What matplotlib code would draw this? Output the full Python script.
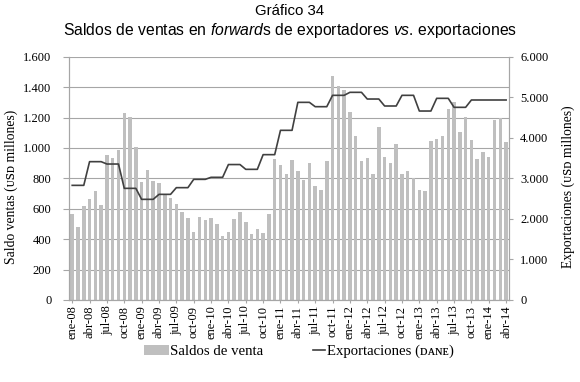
import matplotlib.pyplot as plt
from matplotlib.legend_handler import HandlerLine2D
import numpy as np

# Monthly data, ene-08 .. abr-14
saldos = [565, 480, 620, 664, 714, 627, 951, 934, 986, 1232, 1201, 1008,
          774, 857, 780, 772, 697, 668, 631, 576, 539, 447, 546, 526,
          539, 497, 418, 447, 533, 581, 515, 434, 465, 438, 563, 925,
          888, 828, 921, 848, 789, 899, 752, 723, 916, 1473, 1409, 1381,
          1234, 1081, 912, 932, 826, 1135, 943, 899, 1024, 828, 850, 800,
          723, 719, 1043, 1056, 1078, 1256, 1302, 1102, 1201, 1052, 929, 973,
          943, 1184, 1195, 1041]
exportaciones = [2827, 2827, 2827, 3411, 3411, 3411, 3353, 3353, 3353, 2753, 2753, 2753,
                 2482, 2482, 2482, 2605, 2605, 2605, 2770, 2770, 2770, 2975, 2975, 2975,
                 3025, 3025, 3025, 3340, 3340, 3340, 3222, 3222, 3222, 3584, 3584, 3584,
                 4184, 4184, 4184, 4874, 4874, 4874, 4767, 4767, 4767, 5047, 5047, 5047,
                 5121, 5121, 5121, 4956, 4956, 4956, 4784, 4784, 4784, 5047, 5047, 5047,
                 4660, 4660, 4660, 4973, 4973, 4973, 4751, 4751, 4751, 4932, 4932, 4932,
                 4932, 4932, 4932, 4932]
tick_labels = ["ene-08", "abr-08", "jul-08", "oct-08", "ene-09", "abr-09", "jul-09", "oct-09",
               "ene-10", "abr-10", "jul-10", "oct-10", "ene-11", "abr-11", "jul-11", "oct-11",
               "ene-12", "abr-12", "jul-12", "oct-12", "ene-13", "abr-13", "jul-13", "oct-13",
               "ene-14", "abr-14"]

serif = ['Liberation Serif', 'DejaVu Serif']
sans = ['Liberation Sans', 'DejaVu Sans']
plt.rcParams['font.family'] = serif
plt.rcParams['mathtext.fontset'] = 'custom'
plt.rcParams['mathtext.it'] = 'Liberation Sans:italic'
plt.rcParams['mathtext.rm'] = 'Liberation Sans'

grid_col = '#A6A6A6'


class ShortLine(HandlerLine2D):
    """Legend line drawn only over the right half of the handle box"""
    def create_artists(self, legend, orig_handle, xdescent, ydescent,
                       width, height, fontsize, trans):
        artists = super().create_artists(legend, orig_handle, xdescent, ydescent,
                                         width, height, fontsize, trans)
        x0 = -xdescent
        for a in artists:
            n = len(a.get_xdata())
            a.set_xdata(np.linspace(x0 + width * 0.5, x0 + width, n))
        return artists


x = np.arange(len(saldos))

fig = plt.figure(figsize=(5.8, 3.82), dpi=100)
ax = fig.add_axes([0.1195, 0.2147, 0.7581, 0.6369])
ax2 = ax.twinx()

# Bars
ax.bar(x, saldos, width=0.6, color='#BFBFBF', zorder=2, label='Saldos de venta')
ax.set_ylim(0, 1600)
ax.set_yticks(np.arange(0, 1601, 200))
ax.set_yticklabels([f"{v:,}".replace(",", ".") for v in range(0, 1601, 200)])
ax.yaxis.grid(True, color=grid_col, linewidth=0.8, zorder=0)
ax.set_axisbelow(True)
ax.set_xlim(-0.5, len(saldos) - 0.5)
ax.set_xticks(x[::3])
ax.set_xticklabels(tick_labels, rotation=90, fontsize=9)
ax.tick_params(axis='y', labelsize=9, length=4, color=grid_col, pad=9)
ax.tick_params(axis='x', length=2, color=grid_col, pad=2)
ax.set_ylabel('Saldo ventas (ᴜꜱᴅ millones)', fontsize=9.8)
ax.yaxis.set_label_coords(-0.117, 0.464)

# Line
ax2.plot(x, exportaciones, color='#404040', linewidth=1.2, label='Exportaciones (ᴅᴀɴᴇ)')
ax2.set_ylim(0, 6000)
ax2.set_yticks(np.arange(0, 6001, 1000))
ax2.set_yticklabels([f"{v:,}".replace(",", ".") for v in range(0, 6001, 1000)])
ax2.tick_params(axis='y', labelsize=9, length=3, color=grid_col, pad=5)
ax2.set_ylabel('Exportaciones (ᴜꜱᴅ millones)', fontsize=9.8)
ax2.yaxis.set_label_coords(1.12, 0.464)

for a in (ax, ax2):
    a.spines['top'].set_visible(False)
    a.spines['left'].set_color(grid_col)
    a.spines['right'].set_color(grid_col)
    a.spines['bottom'].set_color(grid_col)

# Titles
fig.text(0.5, 0.961, 'Gráfico 34', ha='center', va='baseline', fontsize=10.8, family=sans)
fig.text(0.5, 0.908, r'Saldos de ventas en $\it{forward}$s de exportadores $\it{vs}$. exportaciones',
         ha='center', va='baseline', fontsize=11.3, family=sans)

# Legend
h1, l1 = ax.get_legend_handles_labels()
h2, l2 = ax2.get_legend_handles_labels()
fig.legend(h1 + h2, l1 + l2, loc='center', bbox_to_anchor=(0.515, 0.08), ncol=2,
           frameon=False, fontsize=10.6, handlelength=1.7, handletextpad=0.1,
           columnspacing=2.5, handler_map={h2[0]: ShortLine()})

fig.savefig('out.png', dpi=100)
